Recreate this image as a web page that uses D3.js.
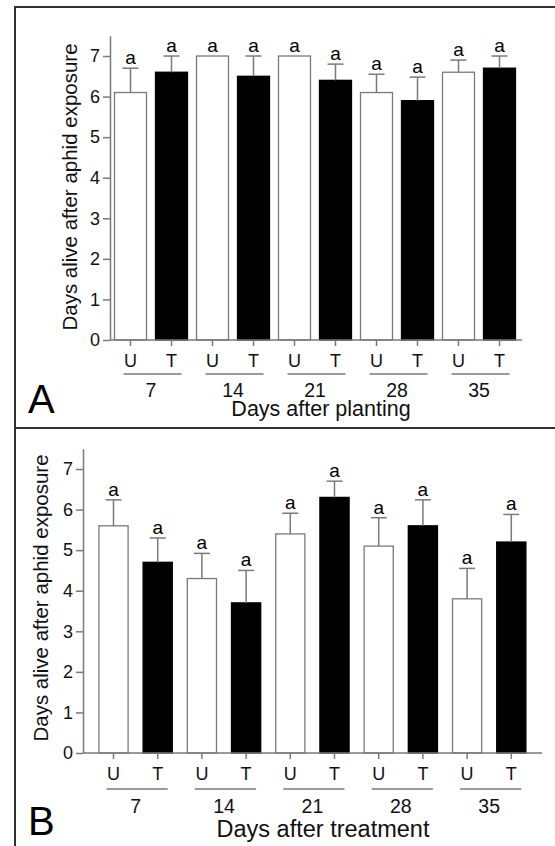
<!DOCTYPE html>
<html>
<head>
<meta charset="utf-8">
<script src="https://cdn.jsdelivr.net/npm/d3@7"></script>
<style>
  body { margin: 0; background: #fff; }
  svg { display: block; font-family: "Liberation Sans", Arial, sans-serif; }
</style>
</head>
<body>
<svg width="555" height="846"></svg>
<script>
// data
var groups = ["7", "14", "21", "28", "35"];
var treatments = ["U", "T"];
var yTicks = [0, 1, 2, 3, 4, 5, 6, 7];

// panel A - days after planting (mean, SE)
var meanA = [6.1, 6.6, 7.0, 6.5, 7.0, 6.4, 6.1, 5.9, 6.6, 6.7];
var errA  = [0.6, 0.4, 0,   0.5, 0,   0.4, 0.45, 0.58, 0.3, 0.3];
var lettersA = ["a", "a", "a", "a", "a", "a", "a", "a", "a", "a"];

// panel B - days after treatment (mean, SE)
var meanB = [5.6, 4.7, 4.3, 3.7, 5.4, 6.3, 5.1, 5.6, 3.8, 5.2];
var errB  = [0.64, 0.6, 0.62, 0.8, 0.51, 0.4, 0.7, 0.64, 0.75, 0.68];
var lettersB = ["a", "a", "a", "a", "a", "a", "a", "a", "a", "a"];

var yLabel = "Days alive after aphid exposure";

var svg = d3.select("svg");
var grey = "#7a7a7a";

// frame lines
svg.append("line").attr("x1", 15).attr("x2", 555).attr("y1", 7).attr("y2", 7)
  .attr("stroke", "#333").attr("stroke-width", 2);
svg.append("line").attr("x1", 15).attr("x2", 555).attr("y1", 428).attr("y2", 428)
  .attr("stroke", "#333").attr("stroke-width", 2);
svg.append("line").attr("x1", 15).attr("x2", 15).attr("y1", 6).attr("y2", 846)
  .attr("stroke", "#333").attr("stroke-width", 2);

drawPanel({
  mean: meanA, err: errA, letters: lettersA,
  title: "Days after planting", tag: "A", titleSize: 21.5, titleX: 321,
  yAxisX: 110, xEnd: 522, y0: 340, unit: 40.57,
  band: [110, 520], padIn: 0.22,
  catBase: 367, lineY: 374, groupBase: 397, titleBase: 416,
  yLabX: 77, yLabY: 187, tagBase: 413
});

drawPanel({
  mean: meanB, err: errB, letters: lettersB,
  title: "Days after treatment", tag: "B", titleSize: 23.5, titleX: 323,
  yAxisX: 83, xEnd: 542, y0: 753, unit: 40.57,
  band: [91.4, 533.4], padIn: 0.34,
  catBase: 783, lineY: 789, groupBase: 813, titleBase: 837,
  yLabX: 48, yLabY: 598, tagBase: 835
});

function drawPanel(p) {
  var rows = d3.cross(groups, treatments).map(function(c, i) {
    return { key: c[0] + "|" + c[1], group: c[0], trt: c[1],
             mean: p.mean[i], err: p.err[i], letter: p.letters[i] };
  });

  var y = d3.scaleLinear().domain([0, 7.5]).range([p.y0, p.y0 - 7.5 * p.unit]);
  var x = d3.scaleBand().domain(rows.map(function(d) { return d.key; }))
    .range(p.band).paddingInner(p.padIn).paddingOuter(p.padIn / 2);

  var g = svg.append("g");

  // bars
  g.selectAll("rect.bar").data(rows).enter().append("rect")
    .attr("class", "bar")
    .attr("x", function(d) { return x(d.key); })
    .attr("width", x.bandwidth())
    .attr("y", function(d) { return y(d.mean); })
    .attr("height", function(d) { return y(0) - y(d.mean); })
    .attr("fill", function(d) { return d.trt == "T" ? "#000" : "#fff"; })
    .attr("stroke", function(d) { return d.trt == "T" ? "#000" : grey; })
    .attr("stroke-width", 1.3);

  // error bars (upper only)
  var eb = g.selectAll("g.err").data(rows.filter(function(d) { return d.err > 0; }))
    .enter().append("g").attr("class", "err")
    .attr("stroke", grey).attr("stroke-width", 1.5);
  eb.append("line")
    .attr("x1", function(d) { return x(d.key) + x.bandwidth() / 2; })
    .attr("x2", function(d) { return x(d.key) + x.bandwidth() / 2; })
    .attr("y1", function(d) { return y(d.mean); })
    .attr("y2", function(d) { return y(d.mean + d.err); });
  eb.append("line")
    .attr("x1", function(d) { return x(d.key) + x.bandwidth() / 2 - 8; })
    .attr("x2", function(d) { return x(d.key) + x.bandwidth() / 2 + 8; })
    .attr("y1", function(d) { return y(d.mean + d.err); })
    .attr("y2", function(d) { return y(d.mean + d.err); });

  // significance letters
  g.selectAll("text.sig").data(rows).enter().append("text")
    .attr("class", "sig")
    .attr("x", function(d) { return x(d.key) + x.bandwidth() / 2; })
    .attr("y", function(d) { return y(d.mean + d.err) - 4; })
    .attr("text-anchor", "middle")
    .attr("font-size", 19)
    .text(function(d) { return d.letter; });

  // y axis
  var ya = g.append("g").attr("transform", "translate(" + p.yAxisX + ",0)")
    .call(d3.axisLeft(y).tickValues(yTicks).tickSize(7).tickSizeOuter(0).tickPadding(3));
  ya.select(".domain").attr("stroke", grey).attr("stroke-width", 1.5);
  ya.selectAll(".tick line").attr("stroke", grey).attr("stroke-width", 1.5);
  ya.selectAll(".tick text").attr("font-size", 18).attr("fill", "#111")
    .attr("font-family", null);

  // x axis
  var xa = g.append("g").attr("transform", "translate(0," + y(0) + ")")
    .call(d3.axisBottom(x).tickSize(6).tickPadding(8)
      .tickFormat(function(k) { return k.split("|")[1]; }));
  xa.select(".domain").remove();
  xa.selectAll(".tick line").attr("stroke", grey).attr("stroke-width", 1.5);
  xa.selectAll(".tick text").attr("font-size", 18).attr("fill", "#111")
    .attr("font-family", null);
  g.append("line").attr("x1", p.yAxisX).attr("x2", p.xEnd)
    .attr("y1", y(0)).attr("y2", y(0))
    .attr("stroke", grey).attr("stroke-width", 1.5);

  // group underlines and labels
  var gr = g.selectAll("g.grp").data(groups).enter().append("g").attr("class", "grp");
  gr.append("line")
    .attr("x1", function(k) { return x(k + "|U") + x.bandwidth() / 2 - 7; })
    .attr("x2", function(k) { return x(k + "|T") + x.bandwidth() / 2 + 10; })
    .attr("y1", p.lineY).attr("y2", p.lineY)
    .attr("stroke", grey).attr("stroke-width", 1.5);
  gr.append("text")
    .attr("x", function(k) { return (x(k + "|U") + x(k + "|T") + x.bandwidth()) / 2; })
    .attr("y", p.groupBase)
    .attr("text-anchor", "middle").attr("font-size", 19.5).attr("fill", "#111")
    .text(function(k) { return k; });

  // axis titles
  g.append("text")
    .attr("x", p.titleX).attr("y", p.titleBase)
    .attr("text-anchor", "middle").attr("font-size", p.titleSize).attr("fill", "#111")
    .text(p.title);
  g.append("text")
    .attr("transform", "translate(" + p.yLabX + "," + p.yLabY + ") rotate(-90)")
    .attr("text-anchor", "middle").attr("font-size", 20.5).attr("fill", "#111")
    .text(yLabel);

  // panel tag
  g.append("text").attr("x", 28).attr("y", p.tagBase)
    .attr("font-size", 40).attr("fill", "#000").text(p.tag);
}
</script>
</body>
</html>
